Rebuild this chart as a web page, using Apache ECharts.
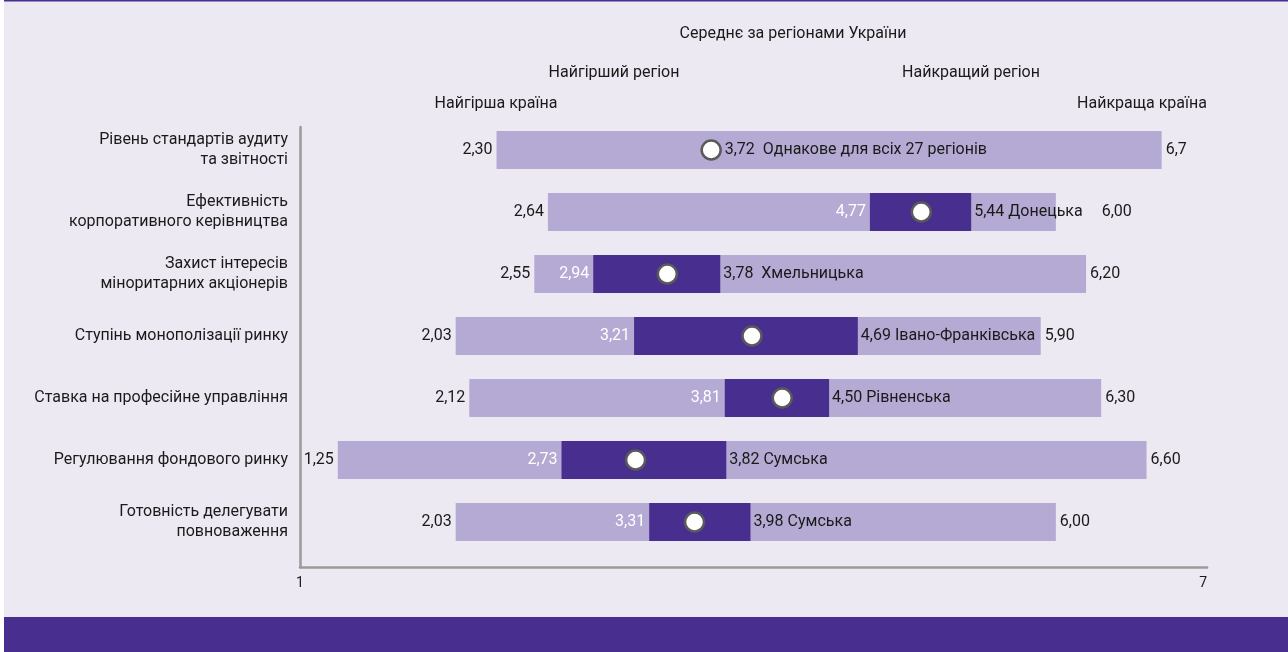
<!DOCTYPE html>
<html><head><meta charset="utf-8">
<script src="https://cdn.jsdelivr.net/npm/echarts@6/dist/echarts.min.js"></script>
<style>html,body{margin:0;padding:0;background:#fff}#c{width:1288px;height:652px}</style>
</head><body><div id="c"></div>
<script>
const categories = [
  "Рівень стандартів аудиту\nта звітності",
  "Ефективність\nкорпоративного керівництва",
  "Захист інтересів\nміноритарних акціонерів",
  "Ступінь монополізації ринку",
  "Ставка на професійне управління",
  "Регулювання фондового ринку",
  "Готовність делегувати\nповноваження"
];
const worstCountry = [2.30, 2.64, 2.55, 2.03, 2.12, 1.25, 2.03];
const bestCountry  = [6.70, 6.00, 6.20, 5.90, 6.30, 6.60, 6.00];
const bestCountryLabels = ["6,7", "6,00", "6,20", "5,90", "6,30", "6,60", "6,00"];
const worstRegion  = [3.72, 4.77, 2.94, 3.21, 3.81, 2.73, 3.31];
const bestRegion   = [3.72, 5.44, 3.78, 4.69, 4.50, 3.82, 3.98];
const average      = [3.72, 5.11, 3.43, 3.99, 4.19, 3.22, 3.61];
const regionNames  = [" Однакове для всіх 27 регіонів", "Донецька", " Хмельницька", "Івано-Франківська", "Рівненська", "Сумська", "Сумська"];
const axisTicks = [1, 7];

const FONT = "'Liberation Sans Narrow', 'Roboto', sans-serif";
const FS = 16;
const LIGHT = '#B4AAD3', DARK = '#482E8E', BG = '#ECE9F3', TXT = '#1a1a1a';

const fmt = v => v.toFixed(2).replace('.', ',');
const measureCtx = document.createElement('canvas').getContext('2d');
measureCtx.font = FS + 'px ' + FONT;
const tw = s => measureCtx.measureText(s).width;

const data = categories.map((c, i) => [i, worstCountry[i], bestCountry[i], worstRegion[i], bestRegion[i], average[i]]);

function renderItem(params, api) {
  const i = api.value(0);
  const wc = api.value(1), bc = api.value(2), wr = api.value(3), br = api.value(4), av = api.value(5);
  const cy = api.coord([wc, i])[1];
  const band = api.size([0, 1])[1];
  const h = band * 0.61;
  const X = v => api.coord([v, i])[0];
  const xWC = X(wc), xBC = X(bc), xWR = X(wr), xBR = X(br), xAV = X(av);
  const r = 9.5;
  const txt = (s, x, align, fill) => ({
    type: 'text', x: x, y: cy, z2: 10,
    style: { text: s, align: align, verticalAlign: 'middle', fill: fill, fontSize: FS, fontFamily: FONT }
  });
  const children = [];
  children.push({ type: 'rect', shape: { x: xWC, y: cy - h / 2, width: xBC - xWC, height: h }, style: { fill: LIGHT } });
  const hasRange = br > wr;
  if (hasRange) {
    children.push({ type: 'rect', shape: { x: xWR, y: cy - h / 2, width: xBR - xWR, height: h }, style: { fill: DARK } });
  }
  children.push({ type: 'circle', z2: 5, shape: { cx: xAV, cy: cy, r: r }, style: { fill: '#fff', stroke: '#5a5a5a', lineWidth: 2.5 } });
  children.push(txt(fmt(wc), xWC - 4, 'right', TXT));
  if (hasRange) children.push(txt(fmt(wr), xWR - 4, 'right', '#fff'));
  const regLabel = fmt(br) + ' ' + regionNames[i];
  const regX = hasRange ? xBR + 3 : xAV + r + 4;
  children.push(txt(regLabel, regX, 'left', TXT));
  const regEnd = regX + tw(regLabel);
  const bcX = regEnd > xBC ? regEnd + 19 : xBC + 4;
  children.push(txt(bestCountryLabels[i], bcX, 'left', TXT));
  return { type: 'group', children: children };
}

const chart = echarts.init(document.getElementById('c'), null, { renderer: 'canvas' });
const headerStyle = { fontSize: FS, fontFamily: FONT, fill: TXT, align: 'center', verticalAlign: 'middle' };
chart.setOption({
  backgroundColor: BG,
  animation: false,
  textStyle: { fontFamily: FONT },
  graphic: [
    { type: 'rect', left: 0, top: 0, shape: { width: 4, height: 652 }, style: { fill: '#fff' }, z: -1 },
    { type: 'rect', left: 4, top: 0, shape: { width: 1284, height: 1.5 }, style: { fill: DARK } },
    { type: 'rect', left: 4, top: 617, shape: { width: 1284, height: 35 }, style: { fill: DARK } },
    { type: 'text', x: 793, y: 34, style: Object.assign({ text: 'Середнє за регіонами України' }, headerStyle) },
    { type: 'text', x: 614, y: 73, style: Object.assign({ text: 'Найгірший регіон' }, headerStyle) },
    { type: 'text', x: 971, y: 73, style: Object.assign({ text: 'Найкращий регіон' }, headerStyle) },
    { type: 'text', x: 496, y: 104, style: Object.assign({ text: 'Найгірша країна' }, headerStyle) },
    { type: 'text', x: 1142, y: 104, style: Object.assign({ text: 'Найкраща країна' }, headerStyle) }
  ],
  grid: [
    { left: 300, width: 907, top: 119, height: 434, containLabel: false },
    { left: 300, width: 907, top: 127, height: 440, containLabel: false }
  ],
  xAxis: [
    { gridIndex: 0, type: 'value', min: axisTicks[0], max: axisTicks[1], show: false },
    { gridIndex: 1, type: 'value', min: axisTicks[0], max: axisTicks[1], interval: axisTicks[1] - axisTicks[0],
      axisLine: { show: true, onZero: false, lineStyle: { color: '#9a9a9a', width: 2.5 } },
      axisTick: { show: false }, splitLine: { show: false },
      axisLabel: { fontSize: 14, color: TXT, fontFamily: FONT, margin: 9, alignMaxLabel: 'right' } }
  ],
  yAxis: [
    { gridIndex: 0, type: 'category', data: categories, inverse: true,
      axisLine: { show: false }, axisTick: { show: false }, splitLine: { show: false },
      axisLabel: { fontSize: FS, color: TXT, fontFamily: FONT, lineHeight: 20, margin: 12, align: 'right' } },
    { gridIndex: 1, type: 'value', min: 0, max: 1,
      axisLine: { show: true, onZero: false, lineStyle: { color: '#9a9a9a', width: 2.5 } },
      axisTick: { show: false }, splitLine: { show: false }, axisLabel: { show: false } }
  ],
  series: [{
    type: 'custom', xAxisIndex: 0, yAxisIndex: 0,
    renderItem: renderItem,
    encode: { y: 0, x: [1, 2, 3, 4, 5] },
    data: data,
    clip: false
  }]
});
</script>
</body></html>
